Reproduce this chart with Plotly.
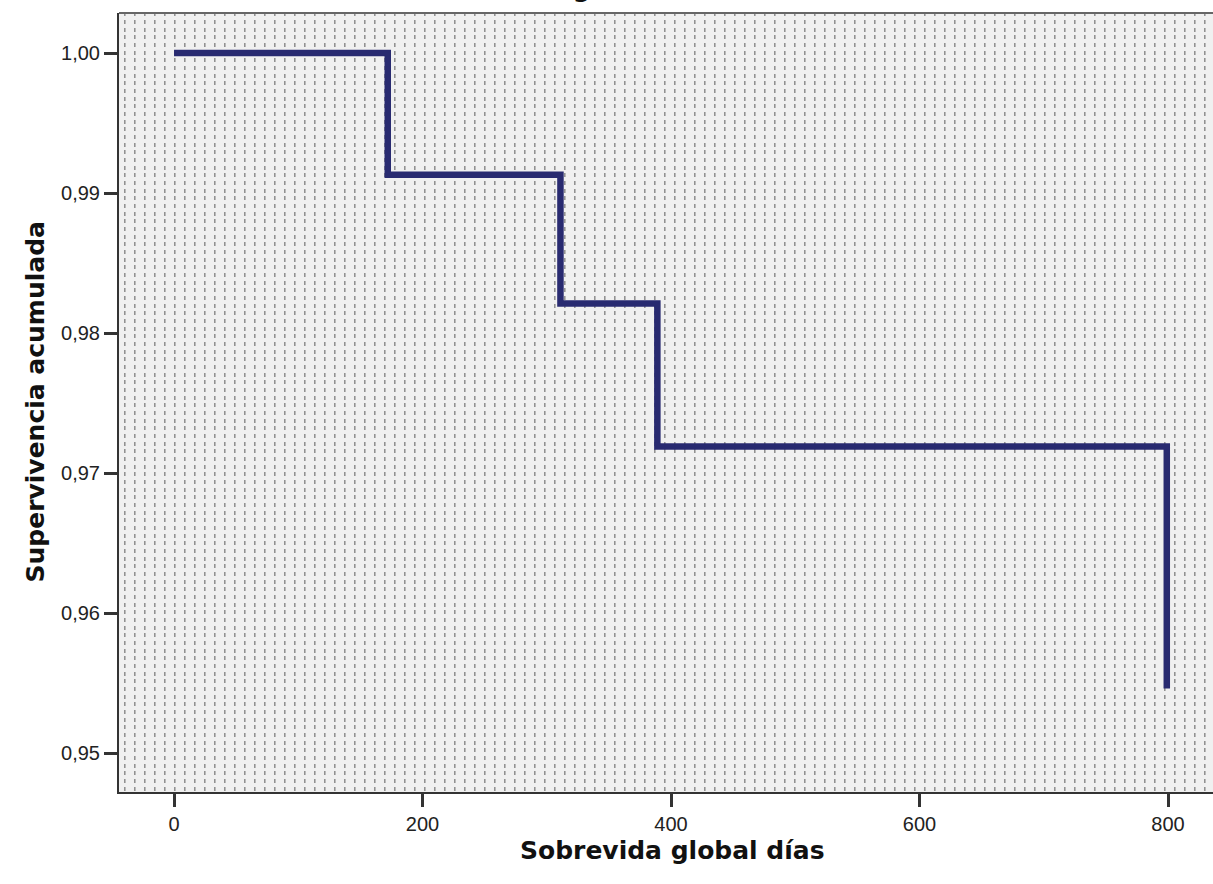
import base64
import struct
import zlib

import numpy as np
import plotly.graph_objects as go

# ---- data ----
dias = [0, 172, 311, 389, 799]
supervivencia = [1.0, 0.9913, 0.9821, 0.9719, 0.9546]
x_ticks = [0, 200, 400, 600, 800]
y_ticks = [0.95, 0.96, 0.97, 0.98, 0.99, 1.00]

W_FIG, H_FIG = 1213, 884
M_L, M_R, M_T, M_B = 119, 0, 13, 92
PW, PH = W_FIG - M_L - M_R, H_FIG - M_T - M_B


# ---- SPSS-like dotted background texture (PNG generated in memory) ----
def make_png(arr):
    h, w, _ = arr.shape
    raw = b"".join(b"\x00" + arr[y].tobytes() for y in range(h))

    def chunk(t, d):
        c = struct.pack(">I", len(d)) + t + d
        return c + struct.pack(">I", zlib.crc32(t + d) & 0xFFFFFFFF)

    return (b"\x89PNG\r\n\x1a\n"
            + chunk(b"IHDR", struct.pack(">IIBBBBB", w, h, 8, 2, 0, 0, 0))
            + chunk(b"IDAT", zlib.compress(raw, 9))
            + chunk(b"IEND", b""))


tex = np.full((PH, PW, 3), 240, np.uint8)
period = 23.0 / 3.0
k0 = int(np.floor((M_T - 160) / period)) - 1
row_centers = [160 + k * period - M_T for k in range(k0, k0 + 200)]
for c in row_centers:
    y0 = int(round(c - 2))
    y1 = y0 + 4
    y0c, y1c = max(y0, 0), min(y1, PH)
    if y0c >= y1c:
        continue
    for xc in range(5, PW, 10):
        tex[y0c:y1c, xc, :] = 145
        if xc + 1 < PW:
            tex[y0c:y1c, xc + 1, :] = 185
uri = "data:image/png;base64," + base64.b64encode(make_png(tex)).decode()

fig = go.Figure()
fig.add_trace(go.Scatter(
    x=dias, y=supervivencia, mode="lines",
    line=dict(shape="hv", color="#282A70", width=6.5),
    showlegend=False, hoverinfo="x+y",
))

tick_font = dict(family="Liberation Sans, Arial, sans-serif", size=20, color="#222222")
title_font = dict(family="DejaVu Sans, Verdana, sans-serif", size=25, color="#111111")

fig.update_layout(
    width=W_FIG, height=H_FIG, autosize=False,
    margin=dict(l=M_L, r=M_R, t=M_T, b=M_B, pad=0),
    paper_bgcolor="white", plot_bgcolor="#f0f0f0",
    separators=",.",
    images=[dict(source=uri, xref="paper", yref="paper", x=0, y=1,
                 sizex=1, sizey=1, sizing="stretch", xanchor="left",
                 yanchor="top", layer="below")],
    xaxis=dict(range=[-44.3, 836.2], tickvals=x_ticks, ticks="outside",
               ticklen=13, tickwidth=2.5, tickcolor="#333333",
               showline=True, linecolor="#333333", linewidth=2,
               showgrid=False, zeroline=False, tickfont=tick_font),
    yaxis=dict(range=[0.947214, 1.002857], tickvals=y_ticks, tickformat=".2f",
               ticks="outside", ticklen=13, tickwidth=2.5, tickcolor="#333333",
               showline=True, linecolor="#333333", linewidth=2,
               showgrid=False, zeroline=False, tickfont=tick_font),
    shapes=[dict(type="line", xref="paper", yref="paper", x0=0, x1=1, y0=1, y1=1,
                 line=dict(color="#666666", width=2))],
    annotations=[
        dict(text="<b>Sobrevida global días</b>", xref="paper", yref="paper",
             x=(673 - M_L) / PW, y=-(850 - (M_T + PH)) / PH,
             xanchor="center", yanchor="middle", showarrow=False, font=title_font),
        dict(text="<b>Supervivencia acumulada</b>", xref="paper", yref="paper",
             x=(35 - M_L) / PW, y=0.5, textangle=-90,
             xanchor="center", yanchor="middle", showarrow=False, font=title_font),
        dict(text="<b>Sobrevida global</b>", xref="paper", yref="paper",
             x=(420 - M_L) / PW, y=1 + (M_T - 5) / PH,
             xanchor="left", yanchor="bottom", showarrow=False, font=title_font),
    ],
)

fig.write_html(
    "out.html",
    config={"displayModeBar": False},
    post_script="document.body.style.margin='0';document.body.style.overflow='hidden';",
)
